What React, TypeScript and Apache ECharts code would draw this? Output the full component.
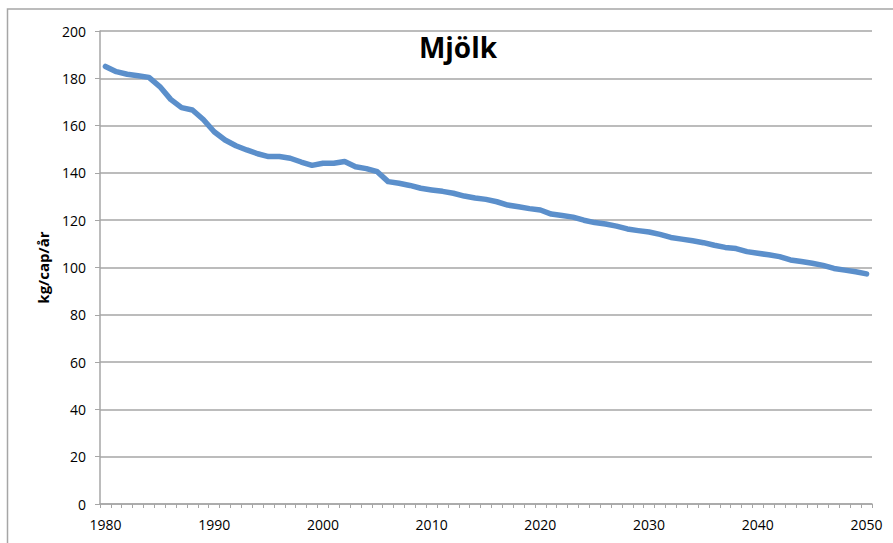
import React, { useEffect, useRef } from "react";
import * as echarts from "echarts";

const years: string[] = [
  "1980", "1981", "1982", "1983", "1984", "1985", "1986", "1987", "1988", "1989",
  "1990", "1991", "1992", "1993", "1994", "1995", "1996", "1997", "1998", "1999",
  "2000", "2001", "2002", "2003", "2004", "2005", "2006", "2007", "2008", "2009",
  "2010", "2011", "2012", "2013", "2014", "2015", "2016", "2017", "2018", "2019",
  "2020", "2021", "2022", "2023", "2024", "2025", "2026", "2027", "2028", "2029",
  "2030", "2031", "2032", "2033", "2034", "2035", "2036", "2037", "2038", "2039",
  "2040", "2041", "2042", "2043", "2044", "2045", "2046", "2047", "2048", "2049",
  "2050",
];

const milk: number[] = [
  185, 182.8, 181.7, 181.1, 180.4, 176.5, 171.1, 167.6, 166.6, 162.6,
  157.4, 153.9, 151.5, 149.7, 148.1, 146.9, 146.9, 146.2, 144.6, 143.2,
  144.1, 144.1, 144.8, 142.6, 141.8, 140.5, 136.3, 135.6, 134.7, 133.5,
  132.8, 132.2, 131.4, 130.2, 129.4, 128.8, 127.8, 126.4, 125.7, 124.9,
  124.3, 122.6, 122.0, 121.3, 120.0, 119.0, 118.4, 117.5, 116.3, 115.6,
  115.0, 114.0, 112.7, 112.0, 111.3, 110.5, 109.4, 108.5, 108.0, 106.7,
  106.0, 105.4, 104.6, 103.2, 102.5, 101.8, 100.9, 99.6, 98.9, 98.2,
  97.3,
];

const titleText = "Mjölk";
const yAxisTitle = "kg/cap/år";

const FONT = "'Open Sans', 'Liberation Sans', sans-serif";
const GRAY = "#A6A6A6";

export default function App() {
  const ref = useRef<HTMLDivElement>(null);

  useEffect(() => {
    if (!ref.current) return;
    const chart = echarts.init(ref.current, undefined, { renderer: "svg" });
    chart.setOption({
      animation: false,
      backgroundColor: "#ffffff",
      graphic: [
        {
          type: "rect",
          z: -10,
          silent: true,
          shape: { x: 7.5, y: 9, width: 1000, height: 1000 },
          style: { fill: "none", stroke: GRAY, lineWidth: 1.5 },
        },
        {
          type: "text",
          x: 458,
          y: 47,
          style: {
            text: titleText,
            fill: "#000000",
            font: `bold 28px ${FONT}`,
            textAlign: "center",
            textVerticalAlign: "middle",
          },
        },
      ],
      grid: { left: 100, right: 21, top: 31, bottom: 39, containLabel: false },
      xAxis: {
        type: "category",
        data: years,
        boundaryGap: true,
        axisLine: { show: true, lineStyle: { color: GRAY, width: 1.5 } },
        axisTick: {
          show: true,
          interval: 0,
          length: 4,
          inside: false,
          lineStyle: { color: GRAY, width: 1 },
        },
        axisLabel: {
          interval: 9,
          color: "#000000",
          fontFamily: FONT,
          fontSize: 14,
          margin: 13,
        },
        splitLine: { show: false },
      },
      yAxis: {
        type: "value",
        min: 0,
        max: 200,
        interval: 20,
        name: yAxisTitle,
        nameLocation: "middle",
        nameRotate: 90,
        nameGap: 50,
        nameTextStyle: {
          color: "#000000",
          fontFamily: FONT,
          fontSize: 15,
          fontWeight: "bold",
        },
        axisLine: { show: true, lineStyle: { color: GRAY, width: 1.5 } },
        axisTick: { show: true, length: 5, lineStyle: { color: GRAY, width: 1 } },
        axisLabel: {
          color: "#000000",
          fontFamily: FONT,
          fontSize: 14,
          margin: 14,
        },
        splitLine: { show: true, lineStyle: { color: GRAY, width: 1.5 } },
      },
      series: [
        {
          type: "line",
          data: milk,
          showSymbol: false,
          symbol: "none",
          smooth: false,
          lineStyle: { color: "#5B8FCB", width: 5.5, cap: "round", join: "round" },
        },
      ],
    });
    return () => chart.dispose();
  }, []);

  return (
    <div
      ref={ref}
      style={{ position: "fixed", left: 0, top: 0, width: 893, height: 543 }}
    />
  );
}
